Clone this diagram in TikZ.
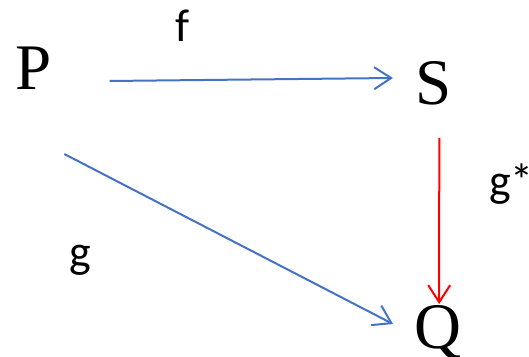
\documentclass[tikz,border=0pt]{standalone}
\usepackage{fontspec}
\setmainfont{Liberation Serif}
\newfontfamily\labelfont{Carlito}
\usepackage{xcolor}
\usetikzlibrary{arrows.meta}
\definecolor{arrowblue}{RGB}{68,114,196}

\begin{document}
\begin{tikzpicture}[x=1pt, y=1pt,
  obj/.style={inner sep=0pt, anchor=base west, font=\fontsize{65}{70}\selectfont},
  arrow/.style={-{Straight Barb[length=17pt, width=22pt, line width=2pt]}, line width=2pt, draw=arrowblue},
  label/.style={inner sep=0pt, anchor=base west, font=\labelfont\fontsize{46}{50}\selectfont}
]
\useasboundingbox (0,0) rectangle (529,356);

% Objects
\node[obj] (P) at (15,266) {P};
\node[obj] (S) at (415,251) {S};
\node[obj] (Q) at (414,8) {Q};

% Labels
\node[label] (f) at (175,314) {f};
\node[label] (g) at (69,89) {g};
\node[label] (gstar) at (489,159) {g*};

% Connections
\draw[arrow] ([shift={(58pt,9pt)}]P.base east) -- ([shift={(-22pt,27pt)}]S.base west);
\draw[arrow] ([shift={(31pt,-64pt)}]P.base) -- ([shift={(-21pt,24pt)}]Q.base west);
\draw[arrow, draw=red] ([shift={(6pt,-33pt)}]S.base) -- ([shift={(1.5pt,44pt)}]Q.base);

\end{tikzpicture}
\end{document}
